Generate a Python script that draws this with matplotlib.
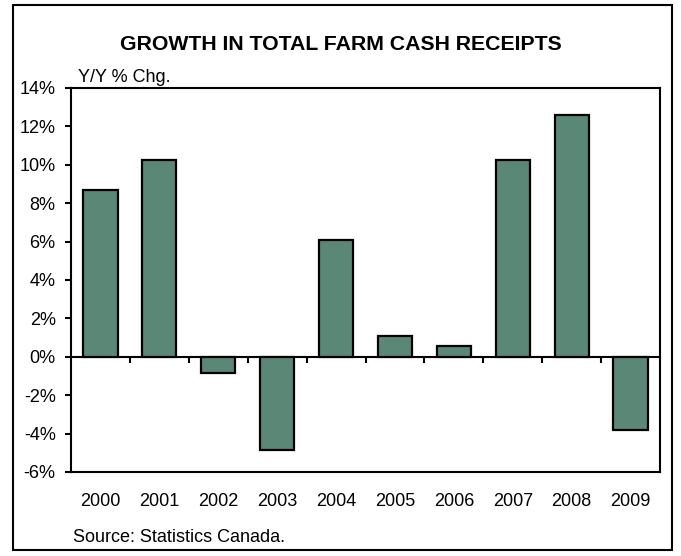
import matplotlib.pyplot as plt
import matplotlib.patches as patches
import numpy as np

plt.rcParams['font.family'] = ['Liberation Sans', 'DejaVu Sans']

years = ['2000', '2001', '2002', '2003', '2004', '2005', '2006', '2007', '2008', '2009']
growth = [8.7, 10.25, -0.83, -4.84, 6.1, 1.1, 0.57, 10.27, 12.6, -3.8]
y_ticks = [-6, -4, -2, 0, 2, 4, 6, 8, 10, 12, 14]

bar_color = '#5b8876'

fig = plt.figure(figsize=(6.81, 5.56), dpi=100)
ax = fig.add_axes([71 / 681, 84 / 556, 589 / 681, 384 / 556])

x = np.arange(len(years))
ax.bar(x, growth, width=0.58, color=bar_color, edgecolor='black', linewidth=1.6, zorder=3)

ax.set_xlim(-0.5, len(years) - 0.5)
ax.set_ylim(-6, 14)
ax.set_yticks(y_ticks)
ax.set_yticklabels([f'{v}%' for v in y_ticks], fontsize=13)
ax.set_xticks(x)
ax.set_xticklabels(years, fontsize=13)
ax.tick_params(axis='x', length=0, pad=15)
ax.tick_params(axis='y', length=4, width=1.5, direction='out', pad=7)
for s in ax.spines.values():
    s.set_linewidth(1.5)

# zero line with tick marks between categories
sec = ax.secondary_xaxis(6 / 20)
sec.set_xticks(np.arange(0.5, len(years) - 0.5, 1))
sec.set_xticklabels([])
sec.tick_params(length=4, width=1.5, direction='out')
sec.spines['bottom'].set_linewidth(1.5)

fig.text(0.5, 1 - 44 / 556, 'GROWTH IN TOTAL FARM CASH RECEIPTS', ha='center', va='center',
         fontsize=15.3, fontweight='bold')
fig.text(78 / 681, 1 - 78 / 556, 'Y/Y % Chg.', ha='left', va='center', fontsize=13)
fig.text(73 / 681, 1 - 538 / 556, 'Source: Statistics Canada.', ha='left', va='center', fontsize=13)

fig.patches.append(patches.Rectangle((13 / 681, 6 / 556), 659 / 681, 545 / 556, transform=fig.transFigure,
                                     fill=False, edgecolor='black', linewidth=1.5))

fig.savefig('out.png', dpi=100)
